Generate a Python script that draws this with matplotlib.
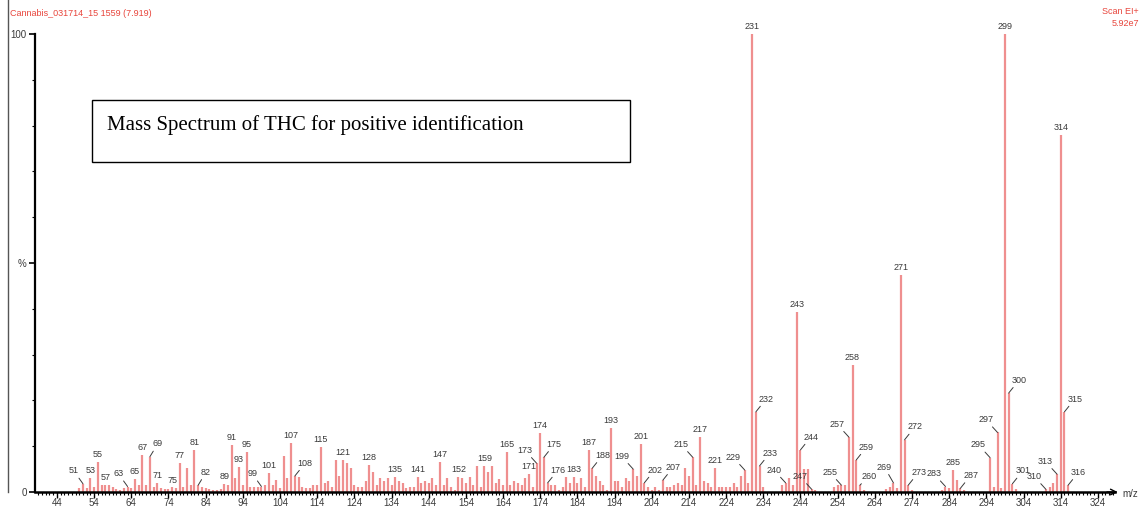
import numpy as np
import matplotlib.pyplot as plt
from matplotlib.lines import Line2D
from matplotlib.patches import Rectangle

# --- DATOS (m/z, intensidad relativa %) ---
mz = [50, 51, 52, 53, 54, 55, 56, 57, 58, 59, 60, 61, 62, 63, 64, 65, 66, 67, 68, 69,
      70, 71, 72, 73, 74, 75, 76, 77, 78, 79, 80, 81, 82, 83, 84, 85, 86, 87, 88, 89,
      90, 91, 92, 93, 94, 95, 96, 97, 98, 99, 100, 101, 102, 103, 104, 105, 106, 107, 108, 109,
      110, 111, 112, 113, 114, 115, 116, 117, 118, 119, 120, 121, 122, 123, 124, 125, 126, 127, 128, 129,
      130, 131, 132, 133, 134, 135, 136, 137, 138, 139, 140, 141, 142, 143, 144, 145, 146, 147, 148, 149,
      150, 151, 152, 153, 154, 155, 156, 157, 158, 159, 160, 161, 162, 163, 164, 165, 166, 167, 168, 169,
      170, 171, 172, 173, 174, 175, 176, 177, 178, 179, 180, 181, 182, 183, 184, 185, 186, 187, 188, 189,
      190, 191, 192, 193, 194, 195, 196, 197, 198, 199, 200, 201, 202, 203, 204, 205, 206, 207, 208, 209,
      210, 211, 212, 213, 214, 215, 216, 217, 218, 219, 220, 221, 222, 223, 224, 225, 226, 227, 228, 229,
      230, 231, 232, 233, 234, 239, 240, 241, 242, 243, 244, 245, 246, 247, 248, 253, 254, 255, 256, 257,
      258, 259, 260, 261, 267, 268, 269, 270, 271, 272, 273, 274, 282, 283, 284, 285, 286, 287, 288, 295,
      296, 297, 298, 299, 300, 301, 302, 310, 311, 312, 313, 314, 315, 316]
intensidad = [0.8, 1.8, 0.8, 3.0, 1.0, 6.6, 1.5, 1.5, 1.5, 1.0, 0.6, 0.5, 0.8, 1.2, 0.8, 2.8, 1.5, 8.1, 1.5, 7.7,
              1.0, 2.0, 0.8, 0.6, 0.6, 1.0, 0.8, 6.3, 1.2, 5.2, 1.5, 9.2, 1.5, 1.2, 0.8, 0.6, 0.5, 0.5, 0.6, 1.8,
              1.5, 10.3, 3.0, 5.5, 1.5, 8.8, 1.2, 1.0, 1.0, 1.2, 1.5, 4.2, 1.5, 2.6, 0.8, 7.9, 3.0, 10.8, 3.5, 3.3,
              1.0, 0.8, 0.8, 1.5, 1.5, 9.8, 2.0, 2.5, 1.0, 7.0, 3.5, 7.0, 6.3, 5.2, 1.5, 1.0, 1.0, 2.5, 5.9, 4.4,
              1.5, 3.0, 2.5, 3.0, 1.5, 3.3, 2.5, 2.0, 0.8, 1.0, 1.0, 3.3, 2.0, 2.5, 2.0, 3.0, 1.5, 6.5, 1.5, 3.0,
              1.0, 0.5, 3.3, 3.0, 2.0, 3.3, 1.5, 5.7, 1.2, 5.7, 4.4, 5.7, 2.0, 2.8, 1.5, 8.7, 1.5, 2.5, 2.0, 1.5,
              3.0, 3.9, 1.0, 6.3, 12.9, 7.6, 2.0, 1.5, 1.5, 0.5, 1.0, 3.3, 2.0, 3.3, 2.0, 3.0, 1.2, 9.2, 5.2, 3.5,
              2.5, 1.5, 0.5, 14.0, 2.5, 2.5, 1.2, 3.0, 2.5, 5.0, 3.5, 10.5, 2.0, 1.0, 0.5, 1.0, 0.5, 2.6, 1.0, 1.0,
              1.5, 2.0, 1.5, 5.2, 3.5, 7.6, 1.5, 12.0, 2.5, 2.0, 1.0, 5.2, 1.0, 1.0, 1.0, 1.0, 2.0, 1.0, 3.5, 4.8,
              2.0, 100.0, 17.5, 5.7, 1.0, 1.5, 2.0, 3.0, 1.5, 39.3, 9.2, 5.0, 5.0, 0.6, 0.5, 1.2, 1.5, 1.5, 1.5, 12.0,
              27.8, 7.0, 1.5, 0.5, 0.7, 1.2, 2.0, 0.8, 47.4, 11.4, 1.5, 0.5, 0.5, 1.2, 0.8, 4.8, 2.6, 0.8, 0.5, 7.5,
              1.0, 13.0, 0.8, 100.0, 21.6, 1.8, 0.6, 0.6, 1.0, 2.0, 3.9, 78.0, 17.5, 1.5]

etiquetados = [51, 53, 55, 57, 63, 65, 67, 69, 71, 75, 77, 81, 82, 89, 91, 93, 95, 99, 101, 107,
               108, 115, 121, 128, 135, 141, 147, 152, 159, 165, 171, 173, 174, 175, 176, 183, 187, 188,
               193, 199, 201, 202, 207, 215, 217, 221, 229, 231, 232, 233, 240, 243, 244, 247, 255, 257,
               258, 259, 260, 269, 271, 272, 273, 283, 285, 287, 295, 297, 299, 300, 301, 310, 313, 314,
               315, 316]

xticks = np.arange(44, 325, 10)

# --- ESTILO ---
rojo = '#ef8f8f'
gris = '#3a3a3a'
guia_izq = {51, 63, 99, 173, 199, 215, 229, 240, 247, 255, 257, 269, 283, 295, 297, 310, 313}
guia_der = {69, 82, 108, 175, 176, 188, 202, 207, 232, 233, 244, 259, 260, 272, 273, 287, 300, 301, 315, 316}
desplaza = {260: (1, 3), 269: (-1, 8)}

plt.rcParams['font.family'] = ['Liberation Sans', 'DejaVu Sans']
fig = plt.figure(figsize=(11.43, 5.08), dpi=100)
ax = fig.add_axes([35 / 1143, 16 / 508, 1080 / 1143, 458 / 508])

ax.vlines(mz, 0, intensidad, color=rojo, lw=1.6)

dic = dict(zip(mz, intensidad))
for m in etiquetados:
    h = dic[m]
    if m in guia_izq:
        ax.annotate(str(m), (m, h), xytext=desplaza.get(m, (-3, 6)), textcoords='offset points',
                    ha='right', va='bottom', fontsize=6.5, color=gris,
                    arrowprops=dict(arrowstyle='-', color=gris, lw=0.7, shrinkA=0, shrinkB=0))
    elif m in guia_der:
        ax.annotate(str(m), (m, h), xytext=desplaza.get(m, (2, 6)), textcoords='offset points',
                    ha='left', va='bottom', fontsize=6.5, color=gris,
                    arrowprops=dict(arrowstyle='-', color=gris, lw=0.7, shrinkA=0, shrinkB=0))
    else:
        ax.annotate(str(m), (m, h), xytext=(0, 2), textcoords='offset points', ha='center',
                    va='bottom', fontsize=6.5, color=gris)

ax.set_xlim(38.1, 328.6)
ax.set_ylim(0, 100)
ax.set_xticks(xticks)
ax.set_xticks(np.arange(39, 329, 1), minor=True)
ax.set_yticks([0, 50, 100])
ax.set_yticklabels(['0', '%', '100'])
ax.set_yticks(np.arange(0, 101, 10), minor=True)
ax.tick_params(axis='x', which='major', length=4, width=1, labelsize=7, colors='black',
               labelcolor=gris, pad=0.5)
ax.tick_params(axis='x', which='minor', length=2.5, width=0.8)
ax.tick_params(axis='y', which='major', length=4, width=1.2, labelsize=7, labelcolor=gris, pad=2)
ax.tick_params(axis='y', which='minor', length=2, width=0.8)
for s in ['top', 'right']:
    ax.spines[s].set_visible(False)
ax.spines['bottom'].set_linewidth(1.8)
ax.spines['left'].set_linewidth(1.6)
ax.annotate('', xy=(1.005, 0), xytext=(0.99, 0), xycoords='axes fraction',
            arrowprops=dict(arrowstyle='->', color='black', lw=1))
fig.text(1122 / 1143, 1 - 494 / 508, 'm/z', fontsize=7, color=gris, va='center')

# encabezados
fig.text(10 / 1143, 1 - 13 / 508, 'Cannabis_031714_15 1559 (7.919)', fontsize=6.5,
         color='#e8453c', va='center')
fig.text(1139 / 1143, 1 - 12 / 508, 'Scan EI+', fontsize=6.5, color='#e8453c', va='center', ha='right')
fig.text(1139 / 1143, 1 - 23 / 508, '5.92e7', fontsize=6.5, color='#e8453c', va='center', ha='right')
fig.add_artist(Line2D([8 / 1143, 8 / 1143], [1 - 492 / 508, 1], color='#555555', lw=1))

# recuadro de título
fig.patches.append(Rectangle((92 / 1143, 1 - 162 / 508), 538 / 1143, 62 / 508,
                             transform=fig.transFigure, fill=False, ec='black', lw=1))
fig.text(107 / 1143, 1 - 125 / 508, 'Mass Spectrum of THC for positive identification',
         family='Liberation Serif', fontsize=15, va='center', color='black')

fig.savefig('out.png', dpi=100)
